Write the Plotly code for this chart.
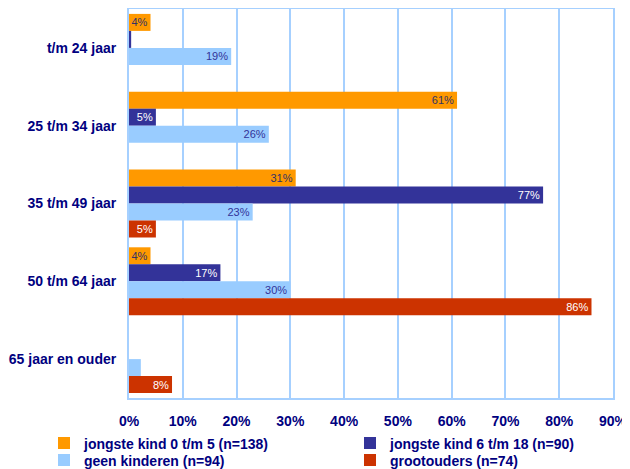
import plotly.graph_objects as go

categories = ["t/m 24 jaar", "25 t/m 34 jaar", "35 t/m 49 jaar", "50 t/m 64 jaar", "65 jaar en ouder"]
series_names = ["jongste kind 0 t/m 5 (n=138)", "jongste kind 6 t/m 18 (n=90)",
                "geen kinderen (n=94)", "grootouders (n=74)"]
jongste_0_5 = [4, 61, 31, 4, 0]
jongste_6_18 = [0.4, 5, 77, 17, 0]
geen_kinderen = [19, 26, 23, 30, 2.2]
grootouders = [0, 0, 5, 86, 8]
labels_0_5 = ["4%", "61%", "31%", "4%", ""]
labels_6_18 = ["", "5%", "77%", "17%", ""]
labels_geen = ["19%", "26%", "23%", "30%", ""]
labels_groot = ["", "", "5%", "86%", "8%"]
x_ticks = [0, 10, 20, 30, 40, 50, 60, 70, 80, 90]
x_tick_labels = [f"{t}%" for t in x_ticks]

colors = ["#FF9900", "#333399", "#99CCFF", "#CC3300"]
text_colors = ["#333366", "#FFFFFF", "#333399", "#FFFFFF"]
legend_ids = ["legend", "legend2", "legend3", "legend4"]
values = [jongste_0_5, jongste_6_18, geen_kinderen, grootouders]
labels = [labels_0_5, labels_6_18, labels_geen, labels_groot]

W, H = 622, 461  # page body has an 8px margin inside the 630x469 window

fig = go.Figure()
for name, vals, labs, c, tc, lg in zip(series_names, values, labels, colors, text_colors, legend_ids):
    fig.add_trace(go.Bar(
        y=categories, x=vals, name=name, orientation="h",
        marker=dict(color=c, line=dict(width=0)),
        text=labs, textposition="inside", insidetextanchor="end",
        textfont=dict(family="Liberation Sans, Arial", size=11, color=tc),
        constraintext="none", cliponaxis=False, hoverinfo="skip",
        legend=lg,
    ))

legend_font = dict(family="Liberation Sans, Arial", size=14, color="#000080", weight="bold")
common_legend = dict(
    orientation="v", xref="container", yref="container", xanchor="left", yanchor="middle",
    font=legend_font, tracegroupgap=0, bgcolor="rgba(0,0,0,0)", borderwidth=0,
)
row1_y = 1 - (443.5 - 8) / H
row2_y = 1 - (460.5 - 8) / H
col1_x = 36 / W
col2_x = 342 / W
fig.update_layout(
    width=W, height=H,
    margin=dict(l=121, r=17, t=1, b=71, autoexpand=False),
    barmode="group", bargap=0.126, bargroupgap=0,
    plot_bgcolor="white", paper_bgcolor="white",
    font=dict(family="Liberation Sans, Arial", color="#000080"),
    legend=dict(common_legend, x=col1_x, y=row1_y),
    legend2=dict(common_legend, x=col2_x, y=row1_y),
    legend3=dict(common_legend, x=col1_x, y=row2_y),
    legend4=dict(common_legend, x=col2_x, y=row2_y),
    showlegend=True,
)
fig.update_xaxes(
    range=[0, 90], tickvals=x_ticks, ticktext=x_tick_labels, automargin=False,
    showgrid=True, gridcolor="#A6D0FF", gridwidth=2,
    showline=True, linecolor="#A6D0FF", linewidth=2, mirror=True,
    zeroline=False, ticks="", ticklabelstandoff=9,
    tickfont=dict(family="Liberation Sans, Arial", size=14, color="#000080", weight="bold"),
)
fig.update_yaxes(
    autorange="reversed", showgrid=False, automargin=False,
    showline=True, linecolor="#A6D0FF", linewidth=2, mirror=True,
    ticks="", ticklabelstandoff=8,
    tickfont=dict(family="Liberation Sans, Arial", size=14, color="#000080", weight="bold"),
)
fig.write_html("out.html")
